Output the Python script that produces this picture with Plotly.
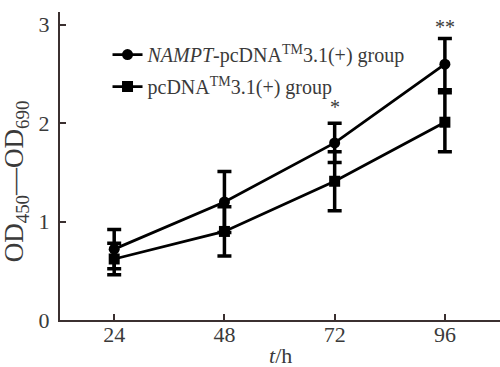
import plotly.graph_objects as go

hours = [24, 48, 72, 96]
nampt_mean = [0.72, 1.20, 1.80, 2.60]
nampt_err = [0.20, 0.31, 0.20, 0.26]
pcdna_mean = [0.62, 0.90, 1.41, 2.01]
pcdna_err = [0.16, 0.25, 0.30, 0.30]
sig_hours = [72, 96]
sig_labels = ["*", "**"]
sig_y = [2.16, 2.98]
x_ticks = [24, 48, 72, 96]
y_ticks = [0, 1, 2, 3]

FONT = "Liberation Serif"
TXT = "#3a3a3a"
AX = "#3b3030"

fig = go.Figure()
fig.add_trace(go.Scatter(
    x=hours, y=nampt_mean, mode="lines+markers",
    name="<i>NAMPT</i>-pcDNA<sup>TM</sup>3.1(+) group",
    legendgroup="a",
    line=dict(color="black", width=2.8),
    marker=dict(symbol="circle", size=11, color="black"),
    error_y=dict(type="data", array=nampt_err, visible=True,
                 color="black", thickness=3.5, width=7),
))
fig.add_trace(go.Scatter(
    x=hours, y=pcdna_mean, mode="lines+markers",
    name="pcDNA<sup>TM</sup>3.1(+) group",
    legendgroup="b",
    line=dict(color="black", width=2.8),
    marker=dict(symbol="square", size=11, color="black"),
    error_y=dict(type="data", array=pcdna_err, visible=True,
                 color="black", thickness=3.5, width=7),
))

for h, lab, yv in zip(sig_hours, sig_labels, sig_y):
    fig.add_annotation(x=h, y=yv, text=lab, showarrow=False,
                       font=dict(family=FONT, size=20, color=TXT))

fig.add_annotation(xref="paper", yref="paper", x=-0.098, y=0.45,
                   xanchor="center", yanchor="middle",
                   text="OD<sub>450</sub>—OD<sub>690</sub>", textangle=-90,
                   showarrow=False, font=dict(family=FONT, size=27, color=TXT))

fig.add_annotation(xref="paper", yref="paper", x=0.5, y=-0.115,
                   yanchor="middle", text="<i>t</i>/h",
                   showarrow=False, font=dict(family=FONT, size=22, color=TXT))

fig.update_layout(
    width=500, height=367,
    margin=dict(l=60, r=0, t=12, b=47),
    paper_bgcolor="white", plot_bgcolor="white",
    font=dict(family=FONT, color=TXT),
    showlegend=True,
    legend=dict(x=0.108, y=0.925, xanchor="left", yanchor="top",
                bgcolor="rgba(0,0,0,0)", font=dict(family=FONT, size=20, color=TXT),
                traceorder="grouped", tracegroupgap=3),
    xaxis=dict(range=[12.2, 108], tickvals=x_ticks, ticks="inside", ticklen=6,
               tickcolor=AX, tickwidth=1.5, showline=True, linecolor=AX, linewidth=2,
               showgrid=False, zeroline=False, automargin=False,
               ticklabelstandoff=-6,
               tickfont=dict(family=FONT, size=22, color=TXT)),
    yaxis=dict(range=[0, 3.13], tickvals=y_ticks, ticks="inside", ticklen=6,
               tickcolor=AX, tickwidth=1.5, showline=True, linecolor=AX, linewidth=2,
               showgrid=False, zeroline=False, automargin=False,
               ticklabelstandoff=4,
               tickfont=dict(family=FONT, size=22, color=TXT)),
)

fig.write_html("out.html", config={"displayModeBar": False},
               post_script="document.body.style.margin='0';")
